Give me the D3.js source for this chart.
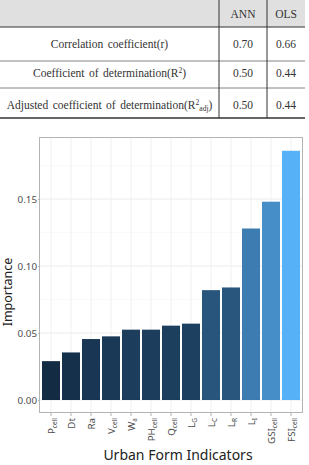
<!DOCTYPE html>
<html><head><meta charset="utf-8">
<script src="https://cdn.jsdelivr.net/npm/d3@7"></script>
<style>
html,body{margin:0;padding:0;background:#fff;}
svg{display:block;}
</style></head>
<body>
<svg id="c" width="309" height="465"></svg>
<script>
// Table data
const tableHeader = ["", "ANN", "OLS"];
const rowLabels = ["Correlation coefficient(r)", "Coefficient of determination(R2)", "Adjusted coefficient of determination(R2adj)"];
const annValues = ["0.70", "0.50", "0.50"];
const olsValues = ["0.66", "0.44", "0.44"];

// Chart data
const categories = ["Pcell","Dt","Ra","Vcell","Wa","PHcell","Qcell","LG","LC","LR","LI","GSIcell","FSIcell"];
const labelMain = ["P","Dt","Ra","V","W","PH","Q","L","L","L","L","GSI","FSI"];
const labelSub  = ["cell","","","cell","a","cell","cell","G","C","R","I","cell","cell"];
const importance = [0.029,0.0355,0.0455,0.0475,0.0525,0.0525,0.0555,0.057,0.082,0.084,0.128,0.148,0.186];
const yTicks = [0.00,0.05,0.10,0.15];
const yMinor = [0.025,0.075,0.125,0.175];

const svg = d3.select("#c");

// ---------- Table ----------
const serif = "'Liberation Serif','DejaVu Serif',serif";
const colX = [0, 219, 267, 305];
const rowY = [0, 27, 61, 88, 118];
const tg = svg.append("g");
tg.append("rect").attr("x",0).attr("y",rowY[0]).attr("width",colX[3]).attr("height",rowY[1]-rowY[0]).attr("fill","#e0e0e0");
tg.append("line").attr("x1",0).attr("x2",colX[3]).attr("y1",rowY[1]).attr("y2",rowY[1]).attr("stroke","#333").attr("stroke-width",1);
[rowY[2],rowY[3]].forEach(y=>tg.append("line").attr("x1",0).attr("x2",colX[3]).attr("y1",y).attr("y2",y).attr("stroke","#666").attr("stroke-width",0.8));
tg.append("line").attr("x1",0).attr("x2",colX[3]).attr("y1",rowY[4]).attr("y2",rowY[4]).attr("stroke","#333").attr("stroke-width",1.6);
[colX[1],colX[2]].forEach(x=>tg.append("line").attr("x1",x).attr("x2",x).attr("y1",0).attr("y2",rowY[4]).attr("stroke","#333").attr("stroke-width",1));

const fs = 11.5;
[1,2].forEach(i=>{
  tg.append("text").attr("x",(colX[i]+colX[i+1])/2).attr("y",(rowY[0]+rowY[1])/2+4)
    .attr("text-anchor","middle").attr("font-family",serif).attr("font-size",fs).attr("fill","#333").text(tableHeader[i]);
});
const rowCenters = [43.5, 73, 105];
rowLabels.forEach((lab,r)=>{
  const t = tg.append("text").attr("x",(colX[0]+colX[1])/2).attr("y",rowCenters[r]+4)
    .attr("text-anchor","middle").attr("font-family",serif).attr("font-size",fs).attr("fill","#333")
    .attr("word-spacing", 1.6);
  if(r===0){ t.text(lab); }
  else if(r===1){
    t.append("tspan").text("Coefficient of determination(R");
    t.append("tspan").attr("font-size",7.5).attr("dy",-4).text("2");
    t.append("tspan").attr("dy",4).text(")");
  } else {
    t.append("tspan").text("Adjusted coefficient of determination(R");
    t.append("tspan").attr("font-size",7.5).attr("dy",-4).text("2");
    t.append("tspan").attr("font-size",7.5).attr("dy",6).text("adj");
    t.append("tspan").attr("dy",-2).text(")");
  }
  tg.append("text").attr("x",(colX[1]+colX[2])/2).attr("y",rowCenters[r]+4).attr("text-anchor","middle")
    .attr("font-family",serif).attr("font-size",fs).attr("fill","#333").text(annValues[r]);
  tg.append("text").attr("x",(colX[2]+colX[3])/2).attr("y",rowCenters[r]+4).attr("text-anchor","middle")
    .attr("font-family",serif).attr("font-size",fs).attr("fill","#333").text(olsValues[r]);
});

// ---------- Chart ----------
const sans = "'Noto Sans','Open Sans','DejaVu Sans',sans-serif";
const px0 = 39, px1 = 303, py0 = 137, py1 = 413;
const y = d3.scaleLinear().domain([-0.0097, 0.1963]).range([py1, py0]);
const x = d3.scaleBand().domain(categories).range([px0, px1]).paddingInner(0.1).paddingOuter(0.15);
const color = d3.scaleLinear().domain([d3.min(importance), d3.max(importance)]).range(["#132B43","#56B1F7"]).interpolate(d3.interpolateLab);

const cg = svg.append("g");
cg.append("rect").attr("x",px0).attr("y",py0).attr("width",px1-px0).attr("height",py1-py0).attr("fill","#fff");
yMinor.forEach(v=>cg.append("line").attr("x1",px0).attr("x2",px1).attr("y1",y(v)).attr("y2",y(v)).attr("stroke","#f6f6f6").attr("stroke-width",0.6));
yTicks.forEach(v=>cg.append("line").attr("x1",px0).attr("x2",px1).attr("y1",y(v)).attr("y2",y(v)).attr("stroke","#ececec").attr("stroke-width",1));
categories.forEach(c=>cg.append("line").attr("x1",x(c)+x.bandwidth()/2).attr("x2",x(c)+x.bandwidth()/2).attr("y1",py0).attr("y2",py1).attr("stroke","#f0f0f0").attr("stroke-width",1));

cg.selectAll("rect.bar").data(categories).join("rect").attr("class","bar")
  .attr("x",c=>x(c)).attr("width",x.bandwidth())
  .attr("y",(c,i)=>y(importance[i])).attr("height",(c,i)=>y(0)-y(importance[i]))
  .attr("fill",(c,i)=>color(importance[i]));

cg.append("rect").attr("x",px0+0.5).attr("y",py0+0.5).attr("width",px1-px0-1).attr("height",py1-py0-1).attr("fill","none").attr("stroke","#b3b3b3").attr("stroke-width",1);

const yAxis = d3.axisLeft(y).tickValues(yTicks).tickFormat(d3.format(".2f")).tickSize(1).tickPadding(1);
const ya = cg.append("g").attr("transform",`translate(${px0},0)`).call(yAxis);
ya.select(".domain").remove();
ya.selectAll("line").attr("stroke","#b3b3b3");
ya.selectAll("text").attr("font-family",sans).attr("font-size",9.8).attr("fill","#4d4d4d");

const xAxis = d3.axisBottom(x).tickSize(3).tickFormat("");
const xa = cg.append("g").attr("transform",`translate(0,${py1})`).call(xAxis);
xa.select(".domain").remove();
xa.selectAll("line").attr("stroke","#b3b3b3");
categories.forEach((c,i)=>{
  const cx = x(c)+x.bandwidth()/2;
  const t = cg.append("text").attr("transform",`translate(${cx+3.5},${py1+5}) rotate(-90)`)
    .attr("text-anchor","end").attr("font-family",sans).attr("font-size",9.8).attr("fill","#4d4d4d");
  t.append("tspan").text(labelMain[i]);
  if(labelSub[i]) t.append("tspan").attr("font-size",6.5).attr("dy",2).text(labelSub[i]);
});

cg.append("text").attr("transform",`translate(12,292) rotate(-90)`).attr("text-anchor","middle")
  .attr("font-family",sans).attr("font-size",12.5).attr("fill","#222").text("Importance");
cg.append("text").attr("x",178).attr("y",460).attr("text-anchor","middle")
  .attr("font-family",sans).attr("font-size",14).attr("fill","#222").text("Urban Form Indicators");
</script>
</body></html>
